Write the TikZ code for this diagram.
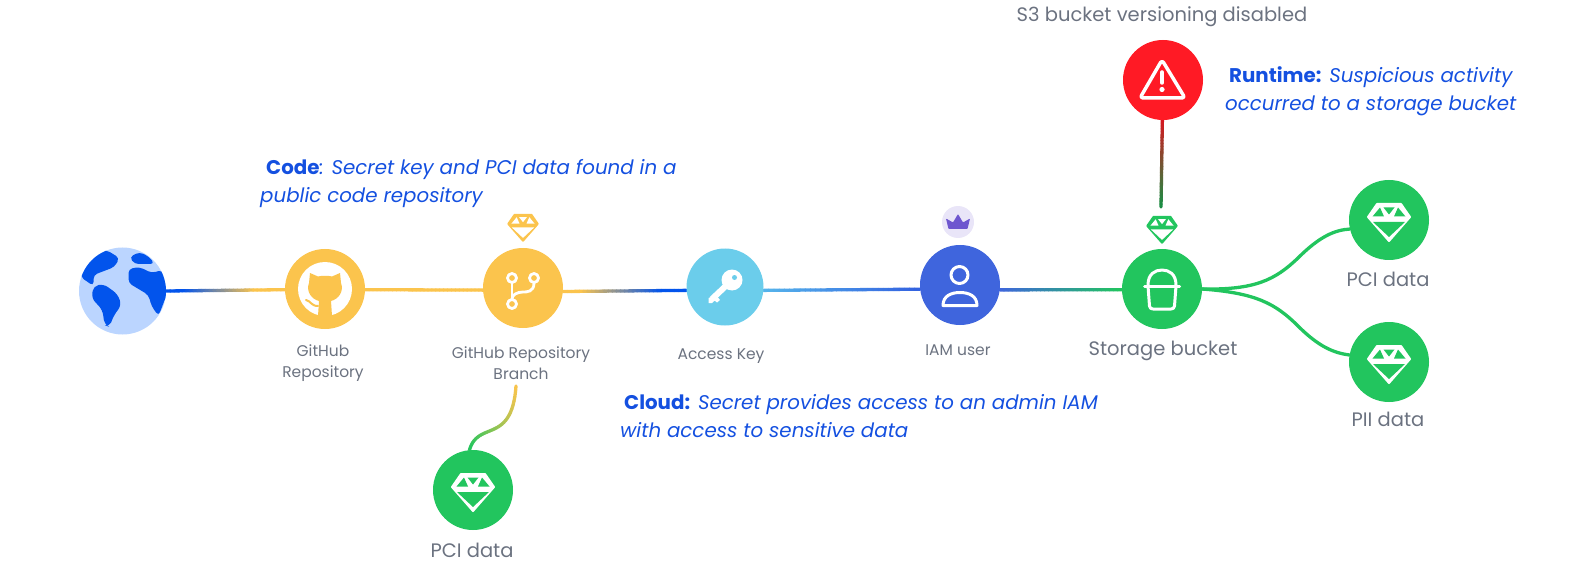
\documentclass[tikz,border=0pt]{standalone}
\usepackage{fontspec}
\setmainfont{Poppins}
\usetikzlibrary{calc}
\pgfdeclarelayer{bg}
\pgfsetlayers{bg,main}
\definecolor{cyellow}{HTML}{FBC44D}
\definecolor{cgreen}{HTML}{22C55E}
\definecolor{cblue}{HTML}{0254EC}
\definecolor{csky}{HTML}{6BCDEB}
\definecolor{ciam}{HTML}{3F65DD}
\definecolor{cred}{HTML}{FF1A25}
\definecolor{cglobe}{HTML}{BBD5FF}
\definecolor{cgrey}{HTML}{6B7280}
\definecolor{ctext}{HTML}{1450E0}
\definecolor{clav}{HTML}{E9E5F8}
\definecolor{cpurple}{HTML}{6E56CF}
\tikzset{
  dot/.style={circle,inner sep=0pt,draw=none,fill=#1,minimum size=80pt},
  lab/.style={text=cgrey,font=\fontsize{15.5}{20.5}\selectfont,align=center,inner sep=0pt},
  bigl/.style={text=cgrey,font=\fontsize{19.5}{20}\selectfont,align=center,inner sep=0pt},
  story/.style={text=ctext,font=\fontsize{19.8}{28}\selectfont\itshape,align=left,inner sep=0pt},
  conn/.style={line width=3.3pt,line cap=round},
  ico/.style={draw=white,line width=3pt,line cap=round,line join=round},
}
\newcommand\hd[1]{{\upshape\bfseries #1}}
% #1 path, #2 colour A, #3 colour B, #4 t0, #5 t1
\newcommand\gradpath[5]{%
  \begin{pgfonlayer}{bg}
  \path #1 foreach \k [evaluate=\k as \q using \k/30] in {0,...,30} {coordinate[pos=\q] (gp\k)};
  \foreach \k in {0,...,29}{%
    \pgfmathtruncatemacro\n{\k+1}%
    \pgfmathsetmacro\p{100*max(0,min(1,((\k+0.5)/30-#4)/(#5-#4)))}%
    \draw[conn,color=#3!\p!#2] (gp\k) -- (gp\n);
  }
  \end{pgfonlayer}%
}
\newcommand\gem[4]{%
  \begin{scope}[shift={(#1)},scale=#2]
    \fill[#3,draw=#3,line width=2pt,line join=round] (-12,-16) -- (12,-16) -- (21,-3) -- (0,21) -- (-21,-3) -- cycle;
    \fill[#4] (-5.5,-12.5) -- (5.5,-12.5) -- (0,-5.5) -- cycle;
    \fill[#4] (-9,-12.5) -- (-16.5,-3.5) -- (-5,-3.5) -- cycle;
    \fill[#4] (9,-12.5) -- (16.5,-3.5) -- (5,-3.5) -- cycle;
    \fill[#4] (-16,2) -- (16,2) -- (0,17) -- cycle;
  \end{scope}}
\begin{document}
\begin{tikzpicture}[x=1pt,y=-1pt]
\useasboundingbox (0,0) rectangle (1596,564);

% nodes
\node[dot=cglobe,minimum size=87pt] (globe) at (122.5,291) {};
\node[dot=cyellow] (gh) at (325,289) {};
\node[dot=cyellow] (br) at (523,288) {};
\node[dot=csky,minimum size=77pt] (key) at (725,287) {};
\node[dot=ciam] (iam) at (960,285) {};
\node[dot=cgreen] (st) at (1162,289) {};
\node[dot=cred] (al) at (1163,80) {};
\node[dot=cgreen] (pcia) at (1389,220) {};
\node[dot=cgreen] (pii) at (1389,362) {};
\node[dot=cgreen] (pcib) at (473,490) {};
\coordinate (alend) at (1161,207);
\coordinate (brstart) at (516,386);

% connectors
\gradpath{(globe.east) -- (gh.181)}{cblue}{cyellow}{0.15}{0.75}
\gradpath{(gh.359) -- (br.183)}{cyellow}{cyellow}{0}{1}
\gradpath{(br.355) -- (key.185)}{cyellow}{cblue}{0.15}{0.8}
\gradpath{(key.355) -- (iam.186)}{csky!80!cblue}{ciam}{0}{1}
\gradpath{(iam.353) -- (st.181)}{ciam}{cgreen}{0}{1}
\gradpath{(al) -- (alend)}{cred!85!black}{cgreen!85!black}{0}{1}
\gradpath{(brstart) .. controls (512,445) and (478,420) .. (pcib.95)}{cyellow}{cgreen}{0}{1}
\begin{pgfonlayer}{bg}
\draw[conn,cgreen] (st.east) .. controls (1255,290) and (1275,280) .. (1298,258) .. controls (1320,236) and (1335,230) .. (pcia.193);
\draw[conn,cgreen] (st.east) .. controls (1255,293) and (1275,303) .. (1298,326) .. controls (1320,348) and (1335,353) .. (pii.170);
\end{pgfonlayer}

% globe continents
\begin{scope}[shift={(globe)}]
  \clip (0,0) circle (43.5);
  \fill[cblue,rounded corners=4pt] (-16,-41) -- (-3,-33) -- (-8,-24) -- (-29,-16) -- (-29,-5) -- (-42,-14) -- (-38,-26) -- (-28,-38) -- cycle;
  \fill[cblue,rounded corners=4pt] (7,-34) -- (17,-39) -- (27,-34) -- (32,-27) -- (12,-27) -- cycle;
  \fill[cblue,rounded corners=4pt] (6,-22) -- (17,-24) -- (29,-18) -- (40,-21) -- (46,-1) -- (36,25) -- (29,15) -- (26,4) -- (6,-8) -- cycle;
  \fill[cblue,rounded corners=5pt] (-29,-5) -- (-19,-7) -- (-5,3) -- (-1,14) -- (-9,25) -- (-13,36) -- (-18,34) -- (-20,19) -- (-31,7) -- cycle;
\end{scope}

% GitHub icon
\begin{scope}[shift={(gh)}]
  \fill[white] (0,0) circle (27);
  \fill[cyellow] (-15,-16) -- (-7,-12.5) .. controls (-3,-13.5) and (3,-13.5) .. (7,-12.5) -- (15,-16) -- (16,-6)
    .. controls (19,2) and (14,10) .. (6,12) -- (7,27) -- (-7,27) -- (-6,12) .. controls (-14,10) and (-19,2) .. (-16,-6) -- cycle;
  \draw[cyellow,line width=2pt,line cap=round] (-19,11) .. controls (-14,12) and (-14,17) .. (-7,17);
\end{scope}

% branch icon
\begin{scope}[shift={(br)}]
  \draw[ico,line width=2.8pt] (-11,-5) -- (-11,11);
  \draw[ico,line width=2.8pt] (11,-5) .. controls (11,4) and (4,4) .. (0,4) .. controls (-6,4) and (-11,7) .. (-11,11);
  \draw[ico,line width=2.8pt] (-11,-10) circle (4.5) (11,-10) circle (4.5) (-11,16) circle (4.5);
\end{scope}

% key icon
\begin{scope}[shift={(key)}]
  \fill[white] (7,-7) circle (10.5);
  \draw[white,line width=6pt] (4,-4) -- (-13,12);
  \fill[white] (-9,8) -- (-5,13) -- (-8,15.5) -- (-10.5,13.5) -- (-13,16) -- (-16.5,16) -- (-16.5,11) -- cycle;
  \fill[csky] (9.5,-9.5) circle (2.5);
\end{scope}

% user icon
\begin{scope}[shift={(iam)}]
  \draw[ico] (-0.5,-10) circle (8.5);
  \draw[ico] (-17,20.5) .. controls (-17,11) and (-9,7.5) .. (0,7.5) .. controls (9,7.5) and (17,11) .. (17,20.5) -- cycle;
\end{scope}

% bucket icon
\begin{scope}[shift={(st)}]
  \draw[ico] (-14,-4) .. controls (-14,-15) and (-7,-19) .. (0,-19) .. controls (7,-19) and (14,-15) .. (14,-4);
  \draw[ico] (-17.5,-3) -- (17.5,-3);
  \draw[ico] (-14,-3) -- (-12.5,17) .. controls (-12.3,19) and (-11,20) .. (-9,20) -- (9,20) .. controls (11,20) and (12.3,19) .. (12.5,17) -- (14,-3);
\end{scope}

% alert icon
\begin{scope}[shift={(al)}]
  \draw[ico,line width=3.5pt,rounded corners=3pt] (-1,-20) -- (-23,18) -- (22,18) -- cycle;
  \draw[ico,line width=3.5pt] (-1,-8) -- (-1,3);
  \fill[white] (-1,9.5) circle (2.6);
\end{scope}

% gems
\gem{pcia}{1}{white}{cgreen}
\gem{pii}{1}{white}{cgreen}
\gem{pcib}{1}{white}{cgreen}
\coordinate (gemb) at (523,226);
\coordinate (gems) at (1162,228);
\gem{gemb}{0.7}{cyellow}{white}
\gem{gems}{0.7}{cgreen}{white}

% crown
\node[dot=clav,minimum size=32pt] (crown) at (958,222) {};
\begin{scope}[shift={(crown)}]
  \fill[cpurple,rounded corners=0.8pt] (-9.5,7) -- (9.5,7) -- (12,-3.5) -- (5,0.5) -- (0,-8) -- (-5,0.5) -- (-12,-3.5) -- cycle;
\end{scope}

% labels
\node[lab] (lgh) at (323,363) {GitHub\\Repository};
\node[lab] (lbr) at (521,363) {GitHub Repository\\Branch};
\node[lab,anchor=mid] (lkey) at (721,357) {Access Key};
\node[lab,anchor=mid] (liam) at (958,353) {IAM user};
\node[bigl,anchor=mid] (lst) at (1163,353) {Storage bucket};
\node[bigl,anchor=mid] (lpa) at (1388,284) {PCI data};
\node[bigl,anchor=mid] (lpi) at (1388,424) {PII data};
\node[bigl,anchor=mid] (lpb) at (472,555) {PCI data};
\node[bigl,anchor=mid] (ls3) at (1162,19) {S3 bucket versioning disabled};

\node[story,anchor=north west] (tcode) at (260,159) {\hspace*{6pt}\hd{Code}: Secret key and PCI data found in a\\public code repository};
\node[story,anchor=north west] (tcloud) at (620,394.5) {\hspace*{4pt}\hd{Cloud:} Secret provides access to an admin IAM\\with access to sensitive data};
\node[story,anchor=north west] (trun) at (1225,66) {\hspace*{4pt}\hd{Runtime:} Suspicious activity\\occurred to a storage bucket};
\end{tikzpicture}
\end{document}
